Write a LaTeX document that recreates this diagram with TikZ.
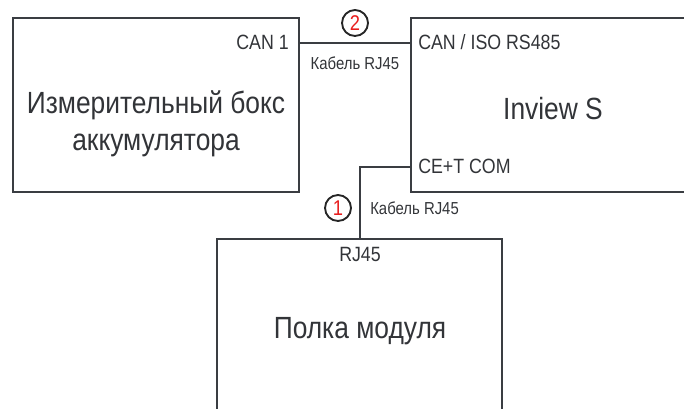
\documentclass[tikz,border=0pt]{standalone}
\usepackage{fontspec}
\setmainfont{Liberation Sans}[FakeStretch=0.86]
\usetikzlibrary{positioning}
\definecolor{linegrey}{RGB}{58,61,66}
\definecolor{textgrey}{RGB}{50,52,56}
\definecolor{numred}{RGB}{232,30,30}

\begin{document}
\begin{tikzpicture}[x=0.75pt,y=-0.75pt,line join=miter,
  box/.style={draw=linegrey,line width=2pt,inner sep=0pt},
  port/.style={text=textgrey,inner sep=0pt,font=\fontsize{15.5}{18}\selectfont},
  cable/.style={text=textgrey,inner sep=0pt,font=\fontsize{13}{15}\selectfont},
  title/.style={text=textgrey,inner sep=0pt,align=center,font=\fontsize{23}{27.75}\selectfont},
  num/.style={circle,draw=black!85,line width=1.4pt,minimum size=19.5pt,inner sep=0pt,
    text=numred,font=\fontsize{16}{18}\selectfont},
  wire/.style={draw=linegrey,line width=2pt}]
  \useasboundingbox (0,0) rectangle (684,409);
  \clip (0,0) rectangle (684,409);

  % boxes
  \node[box,minimum width=214.5pt,minimum height=130.5pt] (meter) at (156,105) {};
  \node[box,minimum width=231.75pt,minimum height=130.5pt] (inview) at (565.5,105) {};
  \node[box,minimum width=213.75pt,minimum height=158.25pt] (shelf) at (359.5,344.5) {};

  \node[title] (metertxt) at (156,124) {Измерительный бокс\\аккумулятора};
  \node[title,anchor=base] (inviewtxt) at (553,120) {Inview S};
  \node[title,anchor=base] (shelftxt) at (360,338) {Полка модуля};

  % ports
  \node[port,anchor=base east] (can1) at (289,50) {CAN 1};
  \node[port,anchor=base west] (canrs) at (418,50) {CAN / ISO RS485};
  \node[port,anchor=base west] (cetcom) at (418,174) {CE+T COM};
  \node[port,anchor=base] (rj45) at (360,262) {RJ45};

  % cables
  \draw[wire] (meter.east |- can1) -- (inview.west |- can1);
  \node[num] (n2) at (355,23) {2};
  \node[cable,anchor=base] (cab2) at (355,70) {Кабель RJ45};

  \draw[wire] (inview.west |- cetcom) -| (rj45 |- shelf.north);
  \node[num] (n1) at (338,208) {1};
  \node[cable,anchor=base west] (cab1) at (370,215) {Кабель RJ45};
\end{tikzpicture}
\end{document}
